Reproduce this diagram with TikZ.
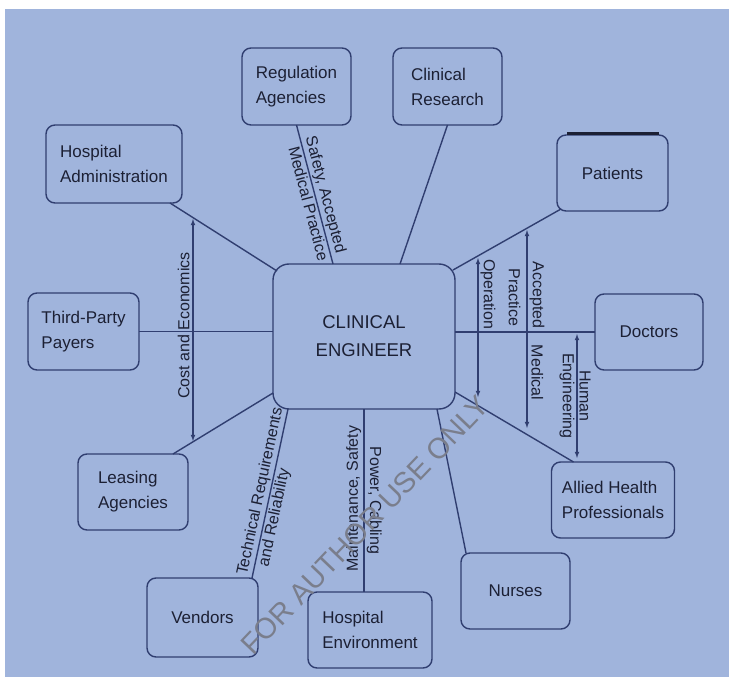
\documentclass[tikz,border=0pt]{standalone}
\usepackage{fontspec}
\setmainfont{Liberation Sans}
\usepackage{xcolor}
\usepackage{tikz}
\usetikzlibrary{calc}

\definecolor{bgblue}{RGB}{160,180,220}
\definecolor{inkline}{RGB}{48,62,112}
\definecolor{inktext}{RGB}{28,32,52}
\definecolor{markgray}{RGB}{122,126,140}

\begin{document}
\begin{tikzpicture}[
		%Global config
		x=1pt, y=-1pt,
		>=latex,
		line width=1.4pt,
		color=inkline,
		%Styles
		Box/.style={
			draw=inkline,
			rounded corners=9pt,
			align=left,
			inner sep=0pt,
			outer sep=0pt,
			text=inktext,
			font=\fontsize{17}{25}\selectfont,
		},
		Hub/.style={
			Box,
			rounded corners=16pt,
			align=center,
			font=\fontsize{18.5}{28}\selectfont,
		},
		Link/.style={
			line width=1.4pt,
			draw=inkline
		},
		Arr/.style={
			<->,
			line width=1.1pt,
			draw=inkline
		},
		Lbl/.style={
			text=inktext,
			inner sep=3pt,
			font=\fontsize{16}{19}\selectfont,
		},
		Mark/.style={
			text=markgray,
			font=\fontsize{29}{32}\selectfont,
		}
		]

		\useasboundingbox (0,0) rectangle (729,677);
		\fill[bgblue] (5,9) rectangle (729,677);

		% Boxes
		\node[Hub, minimum width=182pt, minimum height=145pt] (ce) at (364,336.5) {CLINICAL\\ENGINEER};
		\node[Box, minimum width=109pt, minimum height=77pt] (reg) at (296.5,86.5) {Regulation\\Agencies};
		\node[Box, minimum width=109pt, minimum height=77pt] (res) at (447.5,86.5) {Clinical\\Research};
		\node[Box, minimum width=136pt, minimum height=78pt] (adm) at (114,164) {Hospital\\Administration};
		\node[Box, minimum width=111pt, minimum height=76pt] (pat) at (612.5,173) {Patients};
		\node[Box, minimum width=111pt, minimum height=77pt] (pay) at (83.5,331.5) {Third-Party\\Payers};
		\node[Box, minimum width=108pt, minimum height=76pt] (doc) at (649,332) {Doctors};
		\node[Box, minimum width=110pt, minimum height=76pt] (lea) at (133,492) {Leasing\\Agencies};
		\node[Box, minimum width=123pt, minimum height=76pt] (ahp) at (613,500) {Allied Health\\Professionals};
		\node[Box, minimum width=109pt, minimum height=76pt] (nur) at (515.5,591) {Nurses};
		\node[Box, minimum width=111pt, minimum height=79pt] (ven) at (202.5,617.5) {Vendors};
		\node[Box, minimum width=124pt, minimum height=76pt] (env) at (370,630) {Hospital\\Environment};

		\draw[line width=3pt, inktext] ($(pat.north west)+(10,-2)$) -- ($(pat.north east)+(-9,-2)$);

		% Connectors
		\draw[Link] (reg.south) -- ($(ce.north)+(-31,0)$)
			node[Lbl, pos=0.52, sloped, anchor=south, inner sep=1.5pt] {Safety, Accepted}
			node[Lbl, pos=0.55, sloped, anchor=north, inner sep=1.5pt] {Medical Practice};
		\draw[Link] (res.south) -- ($(ce.north)+(36,0)$);
		\draw[Link] ($(adm.south east)+(-12,0)$) -- ($(ce.north west)+(4,7)$);
		\draw[Link] ($(pat.south west)+(4,-2)$) -- ($(ce.north east)+(-2,6)$);
		\draw[Link] (pay.east) -- (pay.east -| ce.west);
		\draw[Link] (ce.east |- doc.west) -- (doc.west);
		\draw[Link] ($(lea.north east)+(-15,0)$) -- ($(ce.south west)+(0,-16)$);
		\draw[Link] ($(ce.south east)+(0,-17)$) -- ($(ahp.north west)+(22,0)$);
		\draw[Link] ($(ven.north east)+(-6,0)$) -- ($(ce.south west)+(15,0)$)
			node[Lbl, pos=0.5, sloped, anchor=south, inner sep=1.5pt] {Technical Requirements}
			node[Lbl, pos=0.37, sloped, anchor=north, inner sep=1.5pt] {and Reliability};
		\draw[Link] (ce.south) -- (ce.south |- env.north)
			node[Lbl, pos=0.49, rotate=90, anchor=south, inner sep=2pt] {Maintenance, Safety}
			node[Lbl, pos=0.5, rotate=-90, anchor=south, inner sep=2pt] {Power, Cabling};
		\draw[Link] ($(ce.south east)+(-18,0)$) -- ($(nur.north west)+(5,0)$);

		% Double arrows
		\coordinate (ct) at (193,219);
		\coordinate (cb) at (193,441);
		\coordinate (ot) at (478,258);
		\coordinate (ob) at (478,397);
		\coordinate (at) at (527,230);
		\coordinate (ab) at (527,428);
		\coordinate (ht) at (577,334);
		\coordinate (hb) at (577,458);

		\draw[Arr] (ct) -- (cb)
			node[Lbl, pos=0.48, rotate=90, anchor=south] {Cost and Economics};
		\draw[Arr] (ot) -- (ob)
			node[Lbl, pos=0.26, rotate=-90, anchor=south, inner sep=2pt] {Operation};
		\draw[Arr] (at) -- (ab)
			node[Lbl, pos=0.33, rotate=-90, anchor=south, inner sep=2pt] {Accepted}
			node[Lbl, pos=0.72, rotate=-90, anchor=south, inner sep=4pt] {Medical}
			node[Lbl, pos=0.34, rotate=-90, anchor=north, inner sep=6pt] {Practice};
		\draw[Arr] (ht) -- (hb)
			node[Lbl, midway, rotate=-90, anchor=south, inner sep=2pt] {Human}
			node[Lbl, midway, rotate=-90, anchor=north, inner sep=2pt] {Engineering};

		% Watermark
		\node[Mark, rotate=46.3] (wm) at (365,525) {FOR AUTHOR USE ONLY};
	\end{tikzpicture}
\end{document}
